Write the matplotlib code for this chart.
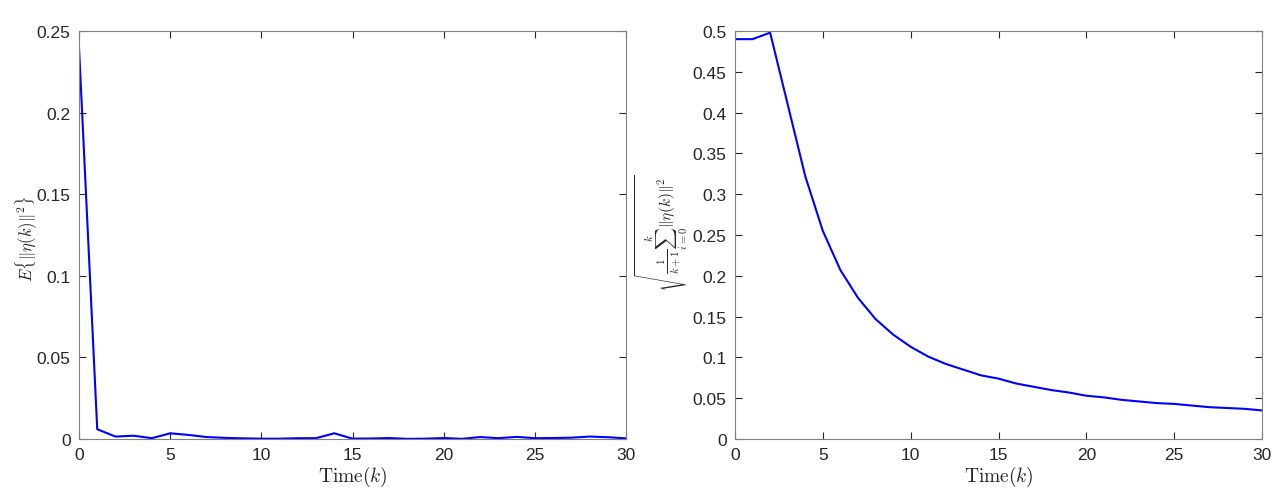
import matplotlib
matplotlib.use("Agg")
import matplotlib.pyplot as plt

plt.rcParams['font.family'] = ['Liberation Sans', 'DejaVu Sans']
plt.rcParams['mathtext.fontset'] = 'cm'

k = list(range(31))
e_eta = [0.24, 0.006, 0.0015, 0.002, 0.0005, 0.0035, 0.0025, 0.0012, 0.0007, 0.0004,
         0.0002, 0.0002, 0.0005, 0.0005, 0.0035, 0.0002, 0.0003, 0.0006, 0.0001, 0.0002,
         0.0006, 0.0001, 0.0012, 0.0005, 0.0013, 0.0005, 0.0006, 0.0008, 0.0015, 0.0011,
         0.0004]
rms_eta = [0.49, 0.49, 0.498, 0.41, 0.322, 0.255, 0.207, 0.173, 0.147, 0.128,
           0.113, 0.101, 0.092, 0.085, 0.078, 0.074, 0.068, 0.064, 0.060, 0.057,
           0.053, 0.051, 0.048, 0.046, 0.044, 0.043, 0.041, 0.039, 0.038, 0.037,
           0.035]

left_yticks = [0, 0.05, 0.1, 0.15, 0.2, 0.25]
left_yticklabels = ['0', '0.05', '0.1', '0.15', '0.2', '0.25']
right_yticks = [0, 0.05, 0.1, 0.15, 0.2, 0.25, 0.3, 0.35, 0.4, 0.45, 0.5]
right_yticklabels = ['0', '0.05', '0.1', '0.15', '0.2', '0.25', '0.3', '0.35', '0.4', '0.45', '0.5']
xticks = [0, 5, 10, 15, 20, 25, 30]

fig = plt.figure(figsize=(12.76, 5.02), dpi=100)
ax1 = fig.add_axes([79/1276, 1-440/502, (626-79)/1276, 408/502])
ax2 = fig.add_axes([735/1276, 1-440/502, (1262-735)/1276, 408/502])

gray = '#262626'
edge = '#808080'

def style(ax):
    for s in ax.spines.values():
        s.set_color(edge)
        s.set_linewidth(0.8)
    ax.tick_params(direction='in', length=5, width=0.8, color=gray, labelsize=12.5,
                   labelcolor=gray, top=True, right=True, pad=6)
    ax.set_xlim(0, 30)
    ax.set_xticks(xticks)
    ax.set_xticklabels([str(t) for t in xticks])
    ax.set_xlabel(r'$\mathrm{Time}(k)$', fontsize=14, color=gray, labelpad=1)

ax1.plot(k, e_eta, color=(0, 0, 1), linewidth=1.5)
style(ax1)
ax1.set_ylim(0, 0.25)
ax1.set_yticks(left_yticks)
ax1.set_yticklabels(left_yticklabels)
ax1.set_ylabel(r'$E\{\|\eta(k)\|^2\}$', fontsize=12, color=gray, va='center')
ax1.yaxis.set_label_coords(-0.097, 0.493)

ax2.plot(k, rms_eta, color=(0, 0, 1), linewidth=1.5)
style(ax2)
ax2.set_ylim(0, 0.5)
ax2.set_yticks(right_yticks)
ax2.set_yticklabels(right_yticklabels)
ax2.set_ylabel(r'$\sqrt{\frac{1}{k+1}\sum_{i=0}^{k}\|\eta(k)\|^2}$', fontsize=11, color=gray, va='center')
ax2.yaxis.set_label_coords(-0.14, 0.507)

fig.savefig('out.png', dpi=100)
